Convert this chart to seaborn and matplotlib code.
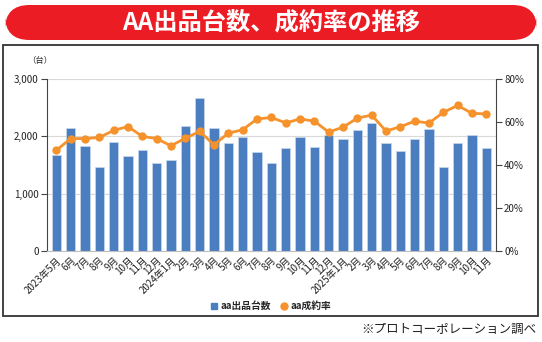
import numpy as np
import pandas as pd
import matplotlib
matplotlib.use("Agg")
import matplotlib.pyplot as plt
import seaborn as sns
from matplotlib.patches import FancyBboxPatch, Rectangle
from matplotlib.lines import Line2D
from matplotlib.ticker import FuncFormatter, MultipleLocator

months = ["2023年5月", "6月", "7月", "8月", "9月", "10月", "11月", "12月",
          "2024年1月", "2月", "3月", "4月", "5月", "6月", "7月", "8月",
          "9月", "10月", "11月", "12月",
          "2025年1月", "2月", "3月", "4月", "5月", "6月", "7月", "8月",
          "9月", "10月", "11月"]
units = [1680, 2150, 1840, 1470, 1900, 1660, 1760, 1530, 1590, 2180,
         2670, 2150, 1890, 1990, 1720, 1540, 1800, 1980, 1820, 2030,
         1960, 2110, 2230, 1890, 1740, 1950, 2130, 1460, 1890, 2030, 1800]
rates = [46.8, 52.3, 52.3, 52.8, 56.1, 57.9, 53.3, 52.3, 48.9, 52.5,
         55.6, 49.4, 54.8, 56.4, 61.4, 62.1, 59.6, 61.4, 60.4, 55.3,
         57.6, 61.8, 63.2, 55.8, 57.8, 60.4, 59.5, 64.5, 67.7, 64.0, 63.8]

title = "AA出品台数、成約率の推移"
bar_label = "aa出品台数"
line_label = "aa成約率"
unit_label = "（台）"
source = "※プロトコーポレーション調べ"

BLUE = "#4a7ec0"
ORANGE = "#f5922b"
RED = "#ec1c24"

sns.set_style("white")
plt.rcParams["font.family"] = ["Noto Sans CJK JP", "DejaVu Sans"]

fig = plt.figure(figsize=(5.42, 3.42), dpi=100)
ax = fig.add_axes([47 / 542, 1 - 251 / 342, (495.7 - 47) / 542, (251 - 79) / 342])

pos = np.arange(len(months))
df = pd.DataFrame({"month": pd.Categorical(months, categories=list(dict.fromkeys(months)), ordered=False) if False else months,
                   "pos": pos, "units": units, "rates": rates})

sns.barplot(data=df, x="pos", y="units", color=BLUE, width=0.65, ax=ax,
            edgecolor="#c9d8ec", linewidth=0.5, saturation=1, native_scale=True)
ax.set_ylim(0, 3000)
ax.yaxis.set_major_locator(MultipleLocator(1000))
ax.yaxis.set_major_formatter(FuncFormatter(lambda v, p: f"{int(v):,}"))
ax.grid(axis="y", color="#d9d9d9", linewidth=0.8)
ax.set_axisbelow(True)
ax.set_xlabel("")
ax.set_ylabel("")

ax2 = ax.twinx()
sns.lineplot(data=df, x="pos", y="rates", ax=ax2, color=ORANGE, linewidth=2.0,
             marker="o", markersize=6, markeredgewidth=0, legend=False)
ax2.set_ylim(0, 80)
ax2.yaxis.set_major_locator(MultipleLocator(20))
ax2.yaxis.set_major_formatter(FuncFormatter(lambda v, p: f"{int(v)}%"))
ax2.set_xlabel("")
ax2.set_ylabel("")

ax.set_xlim(-0.65, len(months) - 0.35)
ax.set_xticks(pos)
ax.set_xticklabels(months, rotation=45, ha="right", rotation_mode="anchor", fontsize=7, color="#222222")
ax.tick_params(axis="x", length=0, pad=3)
ax.tick_params(axis="y", labelsize=7, length=4, width=0.8, color="#444444", labelcolor="#222222", pad=2)
ax2.tick_params(axis="y", labelsize=7, length=4, width=0.8, color="#444444", labelcolor="#222222", pad=2)

for a in (ax, ax2):
    a.spines["top"].set_visible(False)
    a.spines["left"].set_color("#444444")
    a.spines["right"].set_color("#444444")
    a.spines["bottom"].set_color("#bfbfbf")
    a.spines["left"].set_linewidth(0.8)
    a.spines["right"].set_linewidth(0.8)
ax.spines["right"].set_visible(False)
ax2.spines["left"].set_visible(False)
ax2.spines["bottom"].set_visible(False)

fig.text(27 / 542, 1 - 60 / 342, unit_label, fontsize=6, va="center", ha="left", color="#222222")

handles = [Line2D([], [], marker="s", linestyle="none", color=BLUE, markersize=5),
           Line2D([], [], marker="o", linestyle="none", color=ORANGE, markersize=5)]
fig.legend(handles, [bar_label, line_label], loc="center", bbox_to_anchor=(270 / 542, 1 - 306 / 342),
           ncol=2, frameon=False, prop={"size": 7, "weight": "bold"}, handletextpad=0.2,
           columnspacing=0.8, handlelength=1.0)

# outer frame
fig.patches.append(Rectangle((3 / 542, 1 - 316 / 342), (538 - 3) / 542, (316 - 45) / 342,
                             transform=fig.transFigure, fill=False, edgecolor="#333333",
                             linewidth=1.3, zorder=0))
# title banner
fig.patches.append(FancyBboxPatch((5 / 542, 1 - 40 / 342), (537 - 5) / 542, (40 - 5) / 342,
                                  boxstyle="round,pad=0,rounding_size=0.045",
                                  mutation_aspect=542 / 342,
                                  transform=fig.transFigure, facecolor=RED, edgecolor="none"))
fig.text(271 / 542, 1 - 22.5 / 342, title, fontsize=17.5, fontweight="bold", color="white",
         ha="center", va="center")

fig.text(536 / 542, 1 - 329 / 342, source, fontsize=9, ha="right", va="center", color="#222222")

fig.savefig("out.png", dpi=100)
